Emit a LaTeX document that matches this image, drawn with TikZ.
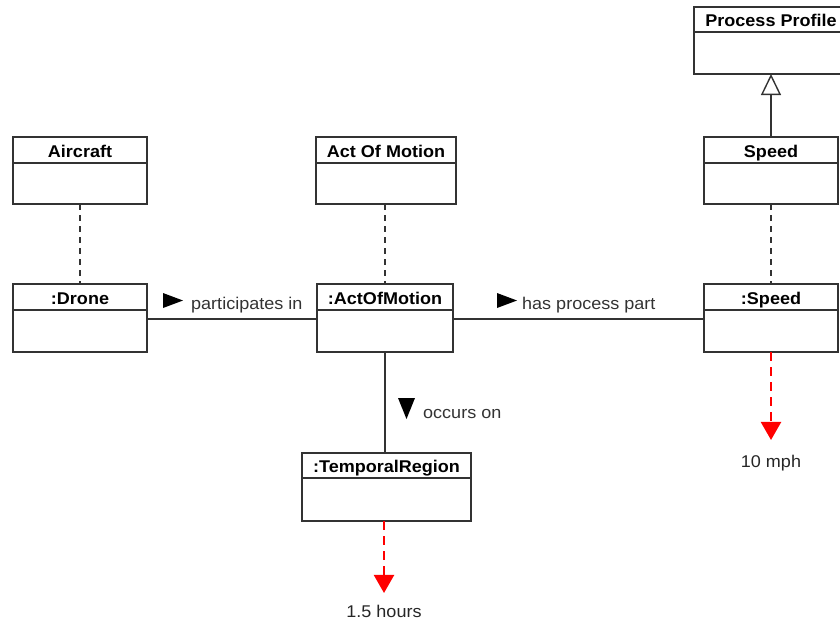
\documentclass[tikz,border=0pt]{standalone}
\usepackage{fontspec}
\setmainfont[FakeStretch=1.06]{Liberation Sans}
\usetikzlibrary{positioning,arrows.meta,calc}

\newcommand{\rtri}[2]{\fill[black] (#1,#2) -- ++(-20,-7.5) -- ++(0,15) -- cycle;}
\newcommand{\dtri}[2]{\fill[black] (#1,#2) -- ++(-8.5,-21) -- ++(17,0) -- cycle;}

\tikzset{
  clsbox/.style={draw=black!80,line width=1.3pt,inner sep=0pt,outer sep=0pt,minimum height=26pt,
    text height=14pt,text depth=0pt,font=\fontsize{17}{20}\selectfont\bfseries},
  clsbody/.style={draw=black!80,line width=1.3pt,inner sep=0pt,outer sep=0pt,minimum height=42pt},
  assoc/.style={draw=black!80,line width=1.4pt},
  inst/.style={draw=black!80,line width=1.6pt,dash pattern=on 6pt off 5pt},
  val/.style={red,line width=2.2pt,dash pattern=on 9pt off 6pt,-{Triangle[width=20pt,length=18pt]}},
  lbl/.style={inner sep=0pt,text=black!80,font=\fontsize{17}{20}\selectfont}
}

\begin{document}
\begin{tikzpicture}[x=1pt,y=-1pt,node distance=0pt]

\useasboundingbox (0,0) rectangle (840,624);

% classes
\node[clsbox,minimum width=154pt,minimum height=25pt] (pp) at (771,19.5) {Process Profile};
\node[clsbody,minimum width=154pt,below=of pp] (ppB) {};

\node[clsbox,minimum width=134pt] (aircraft) at (80,150) {Aircraft};
\node[clsbody,minimum width=134pt,minimum height=41pt,below=of aircraft] (aircraftB) {};

\node[clsbox,minimum width=140pt] (act) at (386,150) {Act Of Motion};
\node[clsbody,minimum width=140pt,minimum height=41pt,below=of act] (actB) {};

\node[clsbox,minimum width=134pt] (speed) at (771,150) {Speed};
\node[clsbody,minimum width=134pt,minimum height=41pt,below=of speed] (speedB) {};

% instances
\node[clsbox,minimum width=134pt] (drone) at (80,297) {:Drone};
\node[clsbody,minimum width=134pt,below=of drone] (droneB) {};

\node[clsbox,minimum width=136pt] (actI) at (385,297) {:ActOfMotion};
\node[clsbody,minimum width=136pt,below=of actI] (actIB) {};

\node[clsbox,minimum width=134pt] (speedI) at (771,297) {:Speed};
\node[clsbody,minimum width=134pt,below=of speedI] (speedIB) {};

\node[clsbox,minimum width=169pt,minimum height=25pt] (time) at (386.5,465.5) {:TemporalRegion};
\node[clsbody,minimum width=169pt,minimum height=43pt,below=of time] (timeB) {};

% values
\node[lbl,anchor=base,text=black!85] (hours) at (384,617) {1.5 hours};
\node[lbl,anchor=base,text=black!85] (mph) at (771,467) {10 mph};

% links
\draw[assoc,-{Triangle[open,width=20pt,length=21pt]}] (speed.north) -- (speed.north |- ppB.south);
\draw[inst] (aircraftB.south) -- (drone.north);
\draw[inst] (actI.north |- actB.south) -- (actI.north);
\draw[inst] (speedB.south) -- (speedI.north);

\draw[assoc] ([yshift=-9pt]droneB.north east) -- ([yshift=-9pt]actIB.north west);
\draw[assoc] ([yshift=-9pt]actIB.north east) -- ([yshift=-9pt]speedIB.north west);
\draw[assoc] (actIB.south) -- (actIB.south |- time.north);

\draw[val,shorten >=11.5pt] (hours.north |- timeB.south) -- (hours.north);
\draw[val,shorten >=14.5pt] (mph.north |- speedIB.south) -- (mph.north);

% association labels
\node[lbl,anchor=base west] (partLbl) at (191,309) {participates in};
\rtri{183}{300.5}
\node[lbl,anchor=base west] (procLbl) at (522,309) {has process part};
\rtri{517}{300.5}
\node[lbl,anchor=base west] (occLbl) at (423,418) {occurs on};
\dtri{406.5}{419}

\end{tikzpicture}
\end{document}
